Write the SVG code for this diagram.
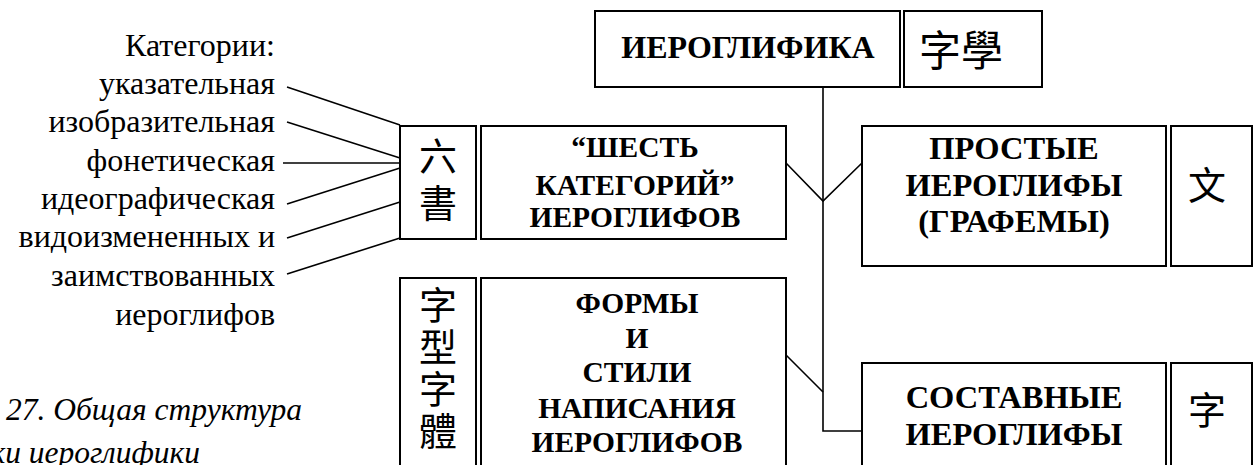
<svg xmlns="http://www.w3.org/2000/svg" width="1255" height="465" viewBox="0 0 1255 465">
<style>
.box{fill:#fff;stroke:#000;stroke-width:2}
.ln{fill:none;stroke:#000;stroke-width:1.6}
.lbl{font-family:"Liberation Serif","Times New Roman",serif;font-size:32px;fill:#000;text-anchor:end}
.b{font-family:"Liberation Serif","Times New Roman",serif;font-weight:bold;fill:#000;text-anchor:middle}
.s1{font-size:32px}
.s2{font-size:29.5px}
.s3{font-size:32.5px}
.cjk{font-family:"Noto Sans CJK TC","Noto Sans CJK SC",sans-serif;fill:#000;text-anchor:middle}
.vert{font-family:"Noto Sans CJK TC","Noto Sans CJK SC",sans-serif;fill:#000;writing-mode:vertical-rl;text-anchor:start}
.cap{font-family:"Liberation Serif","Times New Roman",serif;font-size:31.5px;font-style:italic;fill:#000;text-anchor:end}
</style>
<rect width="1255" height="465" fill="#fff"/>
<g id="connectors">
<path class="ln" d="M823,87 V431 H862"/>
<path class="ln" d="M786,163 L823,201 L862,163"/>
<path class="ln" d="M786,355 L823,392"/>
<path class="ln" d="M287,87 L400,125"/>
<path class="ln" d="M287,122 L400,158"/>
<path class="ln" d="M283,163 L400,163"/>
<path class="ln" d="M287,204 L400,168"/>
<path class="ln" d="M287,238 L400,202"/>
<path class="ln" d="M287,274 L400,238"/>
</g>
<g id="labels">
<text class="lbl" x="275" y="56">Категории:</text>
<text class="lbl" x="275" y="94">указательная</text>
<text class="lbl" x="275" y="132">изобразительная</text>
<text class="lbl" x="275" y="171">фонетическая</text>
<text class="lbl" x="275" y="209">идеографическая</text>
<text class="lbl" x="275" y="247">видоизмененных  и</text>
<text class="lbl" x="275" y="286">заимствованных</text>
<text class="lbl" x="275" y="325">иероглифов</text>
</g>
<g id="n-hieroglyphics">
<rect class="box" x="595" y="11" width="305" height="76"/>
<text class="b s1" x="748" y="58">ИЕРОГЛИФИКА</text>
</g>
<g id="n-zixue">
<rect class="box" x="904" y="11" width="138" height="76"/>
<text class="cjk" x="961" y="66" font-size="42">字學</text>
</g>
<g id="n-liushu">
<rect class="box" x="400" y="126" width="76" height="113"/>
<text class="vert" x="438" y="137" font-size="38" letter-spacing="9">六書</text>
</g>
<g id="n-six">
<rect class="box" x="481" y="126" width="305" height="113"/>
<text class="b s2" x="635" y="157">“ШЕСТЬ</text>
<text class="b s2" x="635" y="195">КАТЕГОРИЙ”</text>
<text class="b s2" x="635" y="227">ИЕРОГЛИФОВ</text>
</g>
<g id="n-simple">
<rect class="box" x="862" y="126" width="304" height="140"/>
<text class="b s3" x="1014" y="159">ПРОСТЫЕ</text>
<text class="b s3" x="1014" y="196">ИЕРОГЛИФЫ</text>
<text class="b s3" x="1014" y="232">(ГРАФЕМЫ)</text>
</g>
<g id="n-wen">
<rect class="box" x="1171" y="126" width="81" height="140"/>
<text class="cjk" x="1207" y="199" font-size="38">文</text>
</g>
<g id="n-zixing">
<rect class="box" x="400" y="278" width="76" height="200"/>
<text class="vert" x="438" y="286" font-size="38" letter-spacing="4">字型字體</text>
</g>
<g id="n-forms">
<rect class="box" x="481" y="278" width="305" height="200"/>
<text class="b s2" x="637" y="313">ФОРМЫ</text>
<text class="b s2" x="637" y="348">И</text>
<text class="b s2" x="637" y="382">СТИЛИ</text>
<text class="b s2" x="637" y="418">НАПИСАНИЯ</text>
<text class="b s2" x="637" y="452">ИЕРОГЛИФОВ</text>
</g>
<g id="n-compound">
<rect class="box" x="862" y="363" width="304" height="120"/>
<text class="b s3" x="1014" y="408">СОСТАВНЫЕ</text>
<text class="b s3" x="1014" y="445">ИЕРОГЛИФЫ</text>
</g>
<g id="n-zi">
<rect class="box" x="1171" y="363" width="81" height="120"/>
<text class="cjk" x="1207" y="424" font-size="38">字</text>
</g>
<g id="caption">
<text class="cap" x="302" y="420">27. Общая структура</text>
<text class="cap" x="200" y="463">ки иероглифики</text>
</g>
</svg>
